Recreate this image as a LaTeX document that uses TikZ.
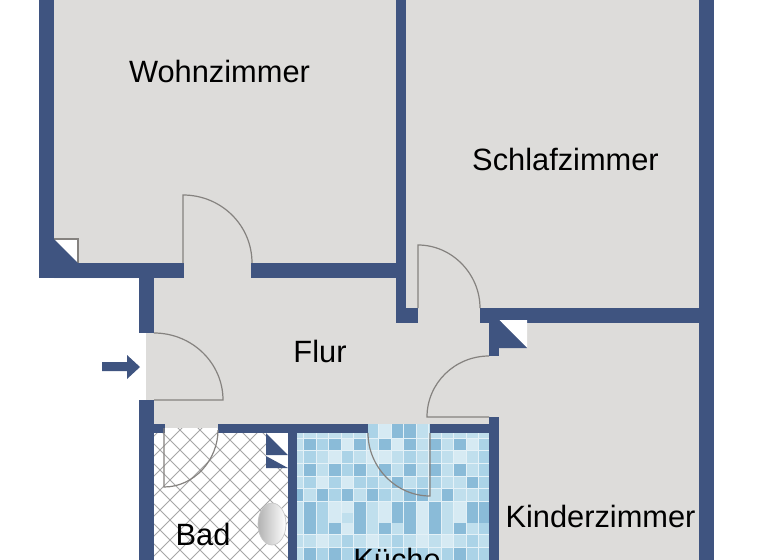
\documentclass[tikz,border=0pt]{standalone}
\usepackage{fontspec}
\setmainfont{Liberation Sans}
\definecolor{wallblue}{HTML}{3F5480}
\definecolor{floorgrey}{HTML}{DDDCDA}
\definecolor{swinggrey}{HTML}{85827F}
\definecolor{grout}{HTML}{E4F1F7}
\definecolor{tile0}{HTML}{D6EAF3}
\definecolor{tile1}{HTML}{C0DFED}
\definecolor{tile2}{HTML}{ABD3E7}
\definecolor{tile3}{HTML}{8ABBD8}
\usetikzlibrary{positioning}

\begin{document}
\begin{tikzpicture}[x=0.75pt,y=-0.75pt,
                    swing/.style={draw=swinggrey,line width=0.9pt},
                    wall/.style={fill=wallblue},
                    every node/.style={font=\fontsize{23.1}{26}\selectfont,text=black,anchor=base,inner sep=0pt}]
  \clip (0,0) rectangle (768,560);
  \fill[white] (0,0) rectangle (768,560);

  % floors
  \fill[floorgrey] (54,0) -- (699,0) -- (699,560) -- (499,560) -- (499,424) -- (154,424)
        -- (154,400) -- (146,400) -- (146,333) -- (154,333) -- (154,278) -- (54,278) -- cycle;
  \fill[floorgrey] (165,424) rectangle (218,428);

  % bathroom tiles
  \begin{scope}
    \clip (154,433) rectangle (288,560) (165,428) rectangle (218,433);
    \fill[white] (154,428) rectangle (288,560);
    \foreach \k in {0,...,15} {
      \draw[gray!70,line width=0.7pt] ({10+20*\k},420) -- +(150,150);
      \draw[gray!70,line width=0.7pt] ({150+20*\k},420) -- +(-150,150);
    }
  \end{scope}
  \fill[white] (266,433) rectangle (288,468);

  % kitchen tiles
  \fill[grout] (297,433) rectangle (489,560);
  \fill[grout] (368,424) rectangle (430,433);
  \foreach \y/\h/\row in {
      424/13.6/{1,1,1,1,1,1,2,0,3,3,1,1,1,1,1,1},
      438.5/11.8/{1,3,2,3,0,3,1,3,0,3,1,3,1,3,0,2},
      451/12/{1,2,1,0,2,1,0,0,1,2,1,2,1,0,1,2},
      464/11.8/{1,3,1,3,2,3,1,3,1,3,1,3,1,3,1,2},
      476.7/11.6/{1,2,0,2,0,2,2,1,3,1,2,2,1,1,3,2},
      489/12/{3,1,3,2,3,1,3,2,1,3,3,1,3,1,1,2},
      501.7/11.8/{1,3,2,0,0,3,1,0,3,3,0,3,1,0,3,3},
      513/10.6/{1,3,2,0,1,3,1,0,3,3,0,3,1,0,3,3},
      522.7/11.2/{1,3,2,3,0,3,1,3,1,3,0,3,1,3,1,2},
      534.7/12.2/{1,1,0,1,2,1,0,1,2,1,0,1,0,1,2,1},
      547.7/13/{1,3,2,3,2,3,2,1,2,2,2,1,2,3,2,2}} {
    \foreach \v [count=\c from 0] in \row {
      \fill[tile\v] ({max(297,291.5+12.5*\c)},\y) rectangle ({291.5+12.5*\c+11.7},{\y+\h});
    }
  }

  % basin
  \begin{scope}
    \clip (154,433) rectangle (288,560);
    \shade[left color=gray!60,middle color=white,right color=white,draw=gray!45,line width=0.5pt]
      (272,524) ellipse [x radius=14,y radius=21];
  \end{scope}

  % walls
  \fill[wall] (39,0) rectangle (54,278);
  \fill[wall] (54,263) rectangle (184,278);
  \fill[wall] (251,263) rectangle (406,278);
  \fill[wall] (396,0) rectangle (406,323);
  \fill[wall] (406,308) rectangle (418,323);
  \fill[wall] (480,308) rectangle (714,323);
  \fill[wall] (699,0) rectangle (714,560);
  \fill[wall] (139,278) rectangle (154,333);
  \fill[wall] (139,400) rectangle (154,560);
  \fill[wall] (154,424) rectangle (165,433);
  \fill[wall] (218,424) rectangle (368,433);
  \fill[wall] (430,424) rectangle (499,433);
  \fill[wall] (489,417) rectangle (499,560);
  \fill[wall] (288,433) rectangle (297,560);
  \fill[wall] (489,323) rectangle (499,356);

  % shafts
  \fill[white] (54,239) -- (78,239) -- (78,263) -- cycle;
  \draw[swing] (54,239) -- (78,239) -- (78,263);
  \fill[wall] (54,239) -- (78,263) -- (54,263) -- cycle;
  \fill[white] (499,320) -- (527,320) -- (527,348) -- cycle;
  \fill[wall] (499,320) -- (527,348) -- (499,348) -- cycle;
  \fill[wall] (266,433) -- (288,455) -- (266,455) -- cycle;
  \fill[wall] (266,456) -- (288,468) -- (266,468) -- cycle;

  % doors
  \draw[swing] (183,263) -- (183,195) .. controls +(38,0) and +(0,-38) .. (252,263);
  \draw[swing] (418,308) -- (418,245) .. controls +(34,0) and +(0,-34) .. (480,308);
  \draw[swing] (154,333) .. controls +(38,0) and +(0,-37) .. (223,400) -- (154,400);
  \draw[swing] (489,356) .. controls +(-34,0) and +(0,-34) .. (427,417) -- (489,417);
  \draw[swing] (164,428) -- (164,487) .. controls +(30,0) and +(0,30) .. (218,430);
  \draw[swing] (430,433) -- (430,496) .. controls +(-34,0) and +(0,34) .. (368,433);

  % entrance arrow
  \fill[wall] (102,362) -- (127,362) -- (127,355) -- (140,367) -- (127,379) -- (127,371) -- (102,371) -- cycle;

  \node (wohnzimmer) at (219.5,83) {Wohnzimmer};
  \node (schlafzimmer) at (565.5,171) {Schlafzimmer};
  \node (flur) at (320,362) {Flur};
  \node (kinderzimmer) at (600.5,527) {Kinderzimmer};
  \node (bad) at (203,545) {Bad};
  \node (kueche) at (397,570) {Küche};
\end{tikzpicture}
\end{document}
